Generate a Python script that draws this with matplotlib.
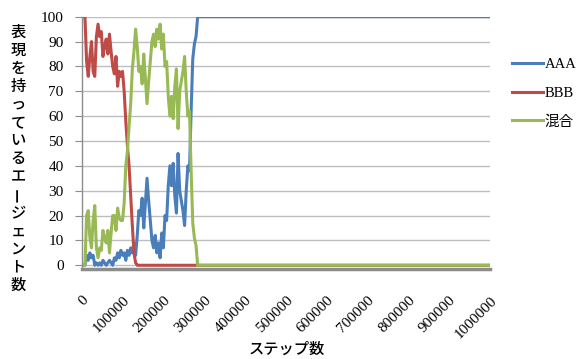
import matplotlib
matplotlib.use("Agg")
import matplotlib.pyplot as plt
import numpy as np

steps = [i * 4000 for i in range(72)] + [1000000]

aaa = [0, 0, 0, 4, 2, 5, 3, 4, 0, 1,
       0, 1, 0, 2, 1, 0, 1, 2, 1, 0,
       3, 2, 5, 3, 6, 4, 5, 2, 6, 4,
       7, 5, 9, 4, 12, 22, 20, 27, 15, 25,
       35, 26, 18, 10, 7, 12, 5, 9, 3, 13,
       7, 20, 18, 32, 40, 32, 41, 28, 21, 45,
       30, 26, 22, 16, 30, 40, 38, 62, 83, 89,
       92, 100, 100]

bbb = [100, 100, 100, 82, 76, 84, 90, 78, 76, 92,
       97, 92, 94, 84, 88, 91, 85, 93, 86, 80,
       77, 84, 72, 78, 76, 78, 70, 58, 48, 40,
       28, 16, 5, 1, 0, 0, 0, 0, 0, 0,
       0, 0, 0, 0, 0, 0, 0, 0, 0, 0,
       0, 0, 0, 0, 0, 0, 0, 0, 0, 0,
       0, 0, 0, 0, 0, 0, 0, 0, 0, 0,
       0, 0, 0]

mix = [0, 0, 0, 20, 22, 11, 7, 18, 24, 7,
       3, 7, 6, 14, 11, 9, 14, 5, 13, 20,
       20, 14, 23, 19, 18, 18, 25, 40, 46, 56,
       65, 79, 86, 95, 88, 78, 80, 73, 85, 75,
       65, 74, 82, 90, 93, 88, 95, 91, 97, 87,
       93, 80, 82, 68, 60, 68, 59, 72, 79, 55,
       70, 74, 78, 84, 70, 60, 62, 38, 17, 11,
       8, 0, 0]

series_names = ["AAA", "BBB", "混合"]
colors = ["#4A7EBB", "#BE4B48", "#98B954"]
yticks = list(range(0, 101, 10))
xticks = list(range(0, 1000001, 100000))
ylabel = "表現を持っているエージェント数"
xlabel = "ステップ数"

serif = ["Liberation Serif", "Noto Sans CJK JP"]
cjk = ["Noto Sans CJK JP", "DejaVu Sans"]

fig = plt.figure(figsize=(5.81, 3.59), dpi=100)
ax = fig.add_axes([81.7 / 581, 1 - 269 / 359, (490 - 81.7) / 581, (269 - 16.7) / 359])

for vals, name, c in zip([aaa, bbb, mix], series_names, colors):
    ax.plot(steps, vals, color=c, lw=2.2, label=name, solid_joinstyle="round")

ax.set_xlim(0, 1000000)
ax.set_ylim(-1.5, 100)
ax.set_yticks(yticks)
ax.set_xticks(xticks)
ax.set_yticklabels([str(v) for v in yticks], family=serif, fontsize=11)
ax.set_xticklabels([str(v) for v in xticks], family=serif, fontsize=11,
                   rotation=45, ha="right", va="top", rotation_mode="anchor")
ax.grid(axis="y", color="#BEBEBE", lw=1)
ax.set_axisbelow(True)
for s in ["top", "right"]:
    ax.spines[s].set_visible(False)
ax.spines["left"].set_color("#8C8C8C")
ax.spines["left"].set_linewidth(1)
ax.spines["bottom"].set_color("#8C8C8C")
ax.spines["bottom"].set_linewidth(2.5)
ax.tick_params(axis="y", length=5, color="#8C8C8C", pad=8)
ax.tick_params(axis="x", length=0, pad=18)

# vertical y label, one character at a time
n = len(ylabel)
y0, y1 = 32, 285
for i, ch in enumerate(ylabel):
    ypix = y0 + (y1 - y0) * i / (n - 1)
    rot = 90 if ch == "ー" else 0
    fig.text(18 / 581, 1 - ypix / 359, ch, family=cjk, fontsize=11,
             ha="center", va="center", rotation=rot, fontweight="medium")

fig.text(287 / 581, 1 - 349 / 359, xlabel, family=cjk, fontsize=11,
         ha="center", va="center", fontweight="medium")

leg = ax.legend(loc="upper left", bbox_to_anchor=(512 / 581, 1 - 58 / 359),
                bbox_transform=fig.transFigure, frameon=False,
                prop={"family": serif, "size": 10.5}, handlelength=2.1,
                handletextpad=0.15, labelspacing=1.05, borderaxespad=0,
                borderpad=0)

fig.savefig("out.png", dpi=100)
